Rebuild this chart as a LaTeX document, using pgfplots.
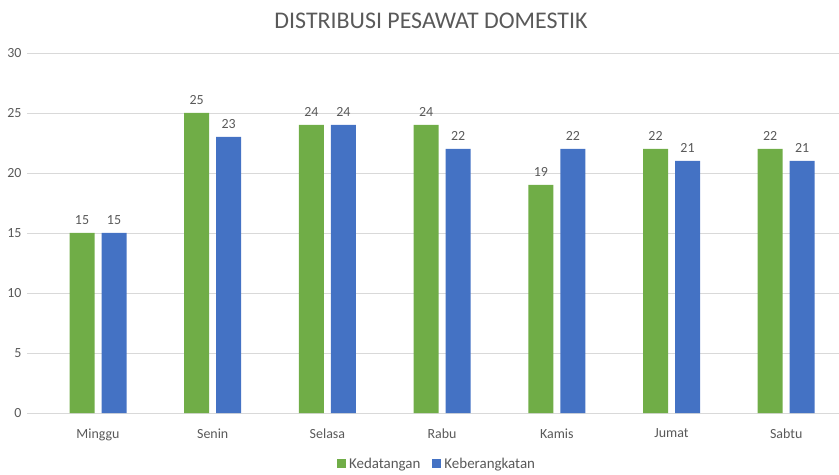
\documentclass[border=0pt]{standalone}
\usepackage{fontspec}
\setmainfont{Carlito}
\usepackage{pgfplots}
\pgfplotsset{compat=1.18}
\definecolor{kgreen}{HTML}{70AD47}
\definecolor{kblue}{HTML}{4472C4}
\definecolor{gridc}{HTML}{D9D9D9}
\definecolor{txt}{HTML}{595959}
\begin{document}
\begin{tikzpicture}[x=1bp,y=1bp]
\begin{axis}[
    at={(0,0)}, anchor=south west,
    scale only axis,
    width=812bp, height=360bp,
    ybar=7bp, bar width=25bp,
    xmin=-0.619, xmax=6.46,
    ymin=0, ymax=30,
    ytick={0,5,...,30},
    xtick={0,...,6},
    xticklabels={Minggu,Senin,Selasa,Rabu,Kamis,Jumat,Sabtu},
    ymajorgrids, grid style={gridc, line width=0.8pt},
    axis x line*=bottom, axis y line*=left,
    x axis line style={gridc, line width=0.8pt, -},
    y axis line style={draw=none},
    major tick length=0pt,
    /pgf/number format/assume math mode=true,
    tick label style={font=\fontsize{14}{16}\selectfont, text=txt},
    yticklabel style={xshift=-2bp},
    xticklabel style={yshift=-12bp},
    nodes near coords,
    nodes near coords style={font=\fontsize{14}{16}\selectfont, text=txt, yshift=5bp},
    legend style={at={(0.505,-62bp)}, anchor=south, yshift=1bp, draw=none,
        font=\fontsize{15}{17}\selectfont, text=txt, legend columns=2,
        /tikz/every odd column/.append style={column sep=1bp},
        /tikz/every even column/.append style={column sep=10bp}},
    legend image code/.code={\fill[#1] (0bp,-4.5bp) rectangle (9bp,4.5bp);},
]
\addplot[fill=kgreen, draw=none] coordinates {(0,15) (1,25) (2,24) (3,24) (4,19) (5,22) (6,22)};
\addlegendentry{Kedatangan}
\addplot[fill=kblue, draw=none] coordinates {(0,15) (1,23) (2,24) (3,22) (4,22) (5,21) (6,21)};
\addlegendentry{Keberangkatan}
\end{axis}
\node[text=txt, font=\fontsize{24}{28}\selectfont] at (404bp,392bp) {DISTRIBUSI PESAWAT DOMESTIK};
\pgfresetboundingbox
\path (-27bp,-62bp) rectangle (812bp,413bp);
\end{tikzpicture}
\end{document}
